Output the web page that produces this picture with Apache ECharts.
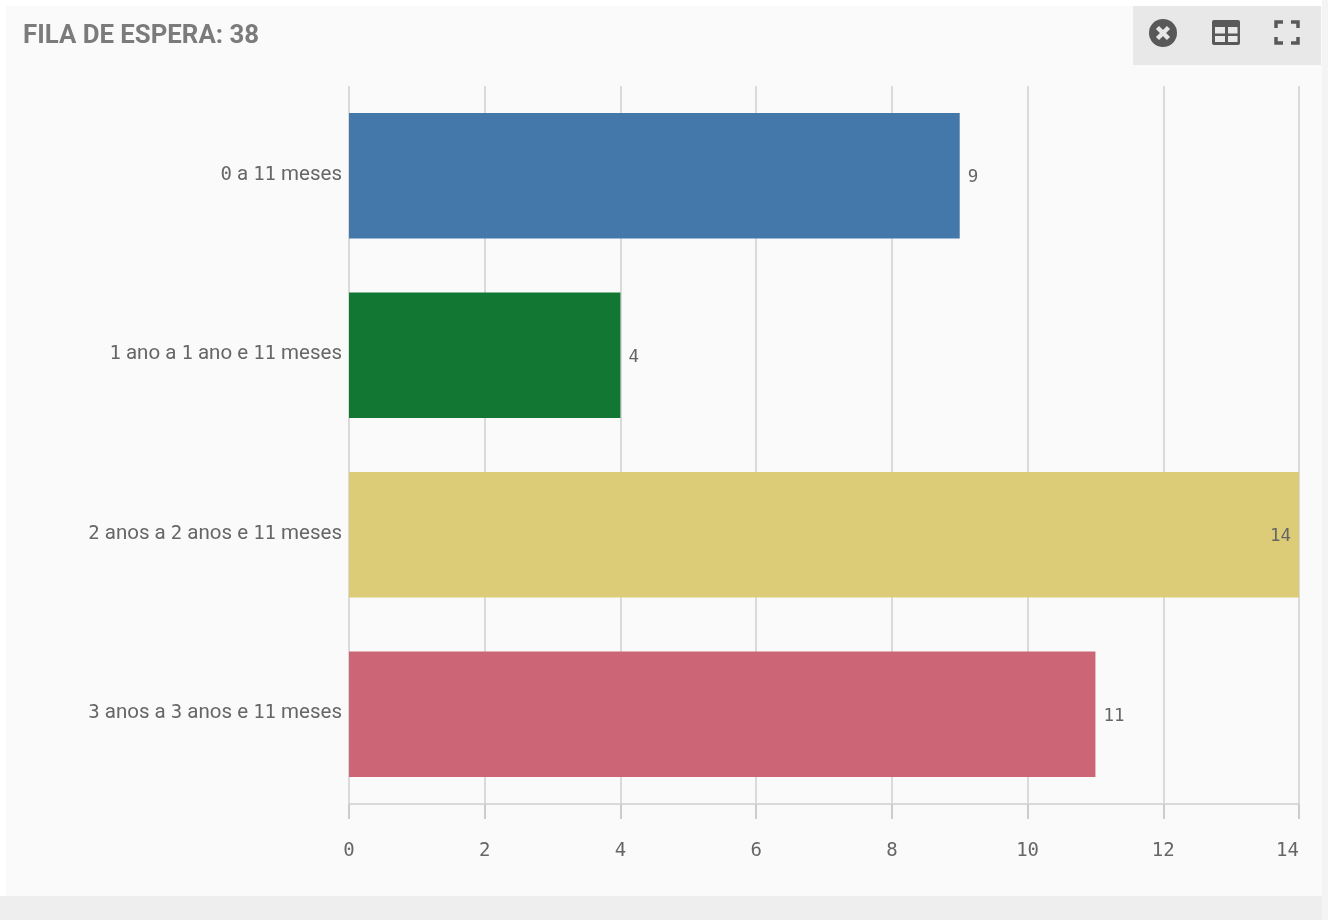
<!DOCTYPE html>
<html>
<head>
<meta charset="utf-8">
<title>Fila de espera</title>
<style>html,body{margin:0;padding:0;background:#fff}#chart{width:1328px;height:920px}</style>
<script src="https://cdn.jsdelivr.net/npm/echarts@6/dist/echarts.min.js"></script>
</head>
<body>
<div id="chart"></div>
<script>
const titleText = 'FILA DE ESPERA: 38';
const categories = ['0 a 11 meses', '1 ano a 1 ano e 11 meses', '2 anos a 2 anos e 11 meses', '3 anos a 3 anos e 11 meses'];
const waiting = [9, 4, 14, 11];
const barColors = ['#4477aa', '#117733', '#ddcc77', '#cc6677'];
const axisMax = 14;
const axisStep = 2;

const chart = echarts.init(document.getElementById('chart'), null, { renderer: 'canvas' });

// Panel chrome and toolbar icons
const iconColor = '#595959';
const chrome = [
  { type: 'rect', z: -10, silent: true, shape: { x: 0, y: 896, width: 1328, height: 24 }, style: { fill: '#eeeeee' } },
  { type: 'rect', z: -10, silent: true, shape: { x: 1322, y: 0, width: 6, height: 920 }, style: { fill: '#f4f4f4' } },
  { type: 'rect', z: -9, silent: true, shape: { x: 6, y: 6, width: 1316, height: 890 }, style: { fill: '#fafafa' } },
  { type: 'rect', z: -8, silent: true, shape: { x: 1133, y: 6, width: 188, height: 59 }, style: { fill: '#e8e8e8' } },
  // close icon
  { type: 'circle', shape: { cx: 1163, cy: 33, r: 14 }, style: { fill: iconColor } },
  { type: 'line', shape: { x1: 1157.5, y1: 27.5, x2: 1168.5, y2: 38.5 }, style: { stroke: '#e8e8e8', lineWidth: 4.5 } },
  { type: 'line', shape: { x1: 1168.5, y1: 27.5, x2: 1157.5, y2: 38.5 }, style: { stroke: '#e8e8e8', lineWidth: 4.5 } },
  // table icon
  { type: 'rect', shape: { x: 1212, y: 20, width: 28, height: 25, r: 2 }, style: { fill: iconColor } },
  { type: 'rect', shape: { x: 1215, y: 27, width: 10, height: 6.5 }, style: { fill: '#e8e8e8' } },
  { type: 'rect', shape: { x: 1228, y: 27, width: 9.5, height: 6.5 }, style: { fill: '#e8e8e8' } },
  { type: 'rect', shape: { x: 1215, y: 36, width: 10, height: 6 }, style: { fill: '#e8e8e8' } },
  { type: 'rect', shape: { x: 1228, y: 36, width: 9.5, height: 6 }, style: { fill: '#e8e8e8' } },
  // fullscreen icon
  { type: 'polyline', shape: { points: [[1276, 28], [1276, 22], [1283, 22]] }, style: { fill: 'none', stroke: iconColor, lineWidth: 3.5 } },
  { type: 'polyline', shape: { points: [[1291, 22], [1298, 22], [1298, 28]] }, style: { fill: 'none', stroke: iconColor, lineWidth: 3.5 } },
  { type: 'polyline', shape: { points: [[1276, 37], [1276, 43], [1283, 43]] }, style: { fill: 'none', stroke: iconColor, lineWidth: 3.5 } },
  { type: 'polyline', shape: { points: [[1291, 43], [1298, 43], [1298, 37]] }, style: { fill: 'none', stroke: iconColor, lineWidth: 3.5 } }
];

// Category labels mix a proportional face for words with a monospaced one for digits
const mixedLabel = text => text.split(/(\d+)/).filter(Boolean)
  .map(part => /\d/.test(part) ? `{num|${part}}` : `{word|${part}}`).join('');

chart.setOption({
  animation: false,
  backgroundColor: '#ffffff',
  title: {
    text: titleText,
    left: 23,
    top: 24,
    padding: 0,
    textStyle: { fontFamily: 'Roboto', fontWeight: 'bold', fontSize: 25.8, color: '#7b7b7b' }
  },
  graphic: chrome,
  grid: { left: 349, right: 29, top: 86, bottom: 116 },
  xAxis: {
    type: 'value',
    min: 0,
    max: axisMax,
    interval: axisStep,
    axisLine: { show: true, lineStyle: { color: '#d9d9d9', width: 2 } },
    axisTick: { show: true, length: 15, lineStyle: { color: '#cccccc', width: 2 } },
    axisLabel: { margin: 38, fontFamily: 'DejaVu Sans Mono', fontSize: 19, color: '#666666', hideOverlap: false, alignMaxLabel: 'right' },
    splitLine: { show: true, lineStyle: { color: '#cfcfcf', width: 1.5 } }
  },
  yAxis: {
    type: 'category',
    inverse: true,
    data: categories,
    axisLine: { show: false },
    axisTick: { show: false },
    axisLabel: {
      margin: 7,
      interval: 0,
      padding: [0, 0, 2, 0],
      formatter: mixedLabel,
      rich: {
        word: { fontFamily: 'Roboto', fontSize: 20.5, color: '#666666' },
        num: { fontFamily: 'DejaVu Sans Mono', fontSize: 19, color: '#666666' }
      }
    }
  },
  series: [{
    type: 'bar',
    barWidth: '70%',
    data: waiting.map((v, i) => ({
      value: v,
      itemStyle: { color: barColors[i] },
      label: { position: v === axisMax ? 'insideRight' : 'right' }
    })),
    label: {
      show: true,
      distance: 8,
      fontFamily: 'DejaVu Sans Mono',
      fontSize: 17.5,
      color: '#666666',
      offset: [0, 2]
    }
  }]
});
</script>
</body>
</html>
